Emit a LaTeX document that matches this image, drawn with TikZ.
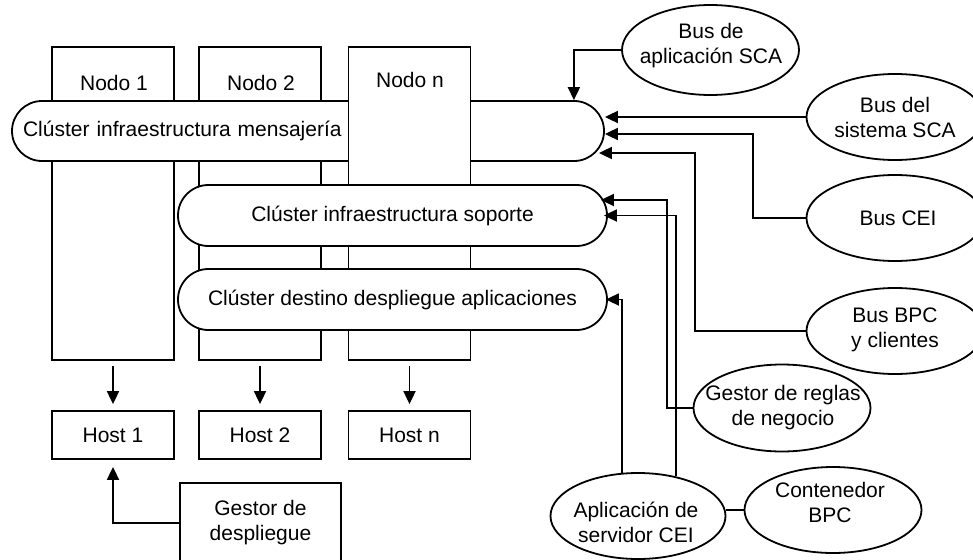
\documentclass[tikz,border=0pt]{standalone}
\usepackage{fontspec}
\setmainfont{Liberation Sans}
\usetikzlibrary{shapes.geometric,arrows.meta}
\begin{document}
\begin{tikzpicture}[x=1pt,y=-1pt,
  every node/.style={font=\fontsize{21pt}{25pt}\selectfont},
  lw/.style={line width=1.8pt},
  box/.style={draw,lw,fill=white,inner sep=0pt,minimum width=122pt},
  clu/.style={draw,lw,fill=white,rounded corners=30.5pt,minimum height=61pt,inner sep=0pt},
  ell/.style={draw,lw,fill=white,ellipse,inner sep=0pt,minimum width=177pt,minimum height=86pt},
  txt/.style={align=center,inner sep=0pt},
  arr/.style={lw,-{Triangle[length=13pt,width=12pt]}},
  conn/.style={lw}]
\useasboundingbox (0,0) rectangle (973,559);
% node columns behind messaging cluster
\node[box,minimum height=313pt] (n1) at (113,203.5) {};
\node[txt] (n1t) at (114,83) {Nodo 1};
\node[box,minimum height=313pt] (n2) at (260,203.5) {};
\node[txt] (n2t) at (261,83) {Nodo 2};
% messaging cluster
\node[clu,minimum width=592pt,minimum height=60pt,rounded corners=30pt,text width=570pt,align=left,inner xsep=11pt] (m) at (308,131) {Clúster infraestructura mensajería};
% node n in front
\node[box,minimum height=313pt] (nn) at (409.5,203.5) {};
\node[txt] (nnt) at (410,80) {Nodo n};
% other clusters
\node[clu,minimum width=429pt] (s) at (392.5,215.5) {Clúster infraestructura soporte};
\node[clu,minimum width=429pt] (d) at (392.5,299.5) {Clúster destino despliegue aplicaciones};
% hosts
\node[box,minimum height=48pt] (h1) at (113,435) {Host 1};
\node[box,minimum height=48pt] (h2) at (260,435) {Host 2};
\node[box,minimum height=48pt] (hn) at (409.5,435) {Host n};
\node[box,minimum width=161pt,minimum height=80pt,align=center] (gd) at (260.5,523) {Gestor de\\despliegue};
% ellipses
\node[ell,minimum height=90pt] (bapp) at (710.5,50) {};
\node[txt] (bappt) at (711,46) {Bus de\\aplicación SCA};
\node[ell] (bsys) at (895,117) {};
\node[txt] (bsyst) at (895,117.5) {Bus del\\sistema SCA};
\node[ell] (bcei) at (895,218) {};
\node[txt] (bceit) at (898,218) {Bus CEI};
\node[ell] (bpc) at (895,331) {};
\node[txt] (bpct) at (895,330) {Bus BPC\\y clientes};
\node[ell,minimum height=87pt] (greg) at (782,408) {};
\node[txt] (gregt) at (783,407.5) {Gestor de reglas\\de negocio};
\node[ell,minimum width=175pt] (acei) at (638,516) {};
\node[txt] (aceit) at (636,522) {Aplicación de\\servidor CEI};
\node[ell] (cbpc) at (833,510) {};
\node[txt] (cbpct) at (830,502) {Contenedor\\BPC};
% connectors
\draw[arr,shorten <=5pt,shorten >=6pt] (n1.south) -- (h1.north);
\draw[arr,shorten <=5pt,shorten >=6pt] (n2.south) -- (h2.north);
\draw[arr,shorten <=5pt,shorten >=6pt] (nn.south) -- (hn.north);
\draw[arr,shorten >=7pt] (gd.west) -| (h1.south);
\draw[arr] (bapp.west) -| ([xshift=-31pt]m.north east);
\draw[arr] (bsys.west) -- (bsys.west -| m.east);
\coordinate (j1) at (753,134);
\draw[arr] (bcei.west) -| (j1) -- (j1 -| m.east);
\coordinate (j2) at (695,153);
\draw[arr] (bpc.west) -| (j2) -- ([xshift=-6pt]j2 -| m.east);
\coordinate (j3) at (667,200);
\draw[arr] (greg.west) -| (j3) -- ([xshift=-7pt]j3 -| s.east);
\draw[arr] (acei.46) |- ([xshift=-4pt]s.east);
\draw[arr] (acei.110) |- ([xshift=-2pt]d.east);
\draw[conn] (cbpc.west) -- (cbpc.west -| acei.east);
\end{tikzpicture}
\end{document}
